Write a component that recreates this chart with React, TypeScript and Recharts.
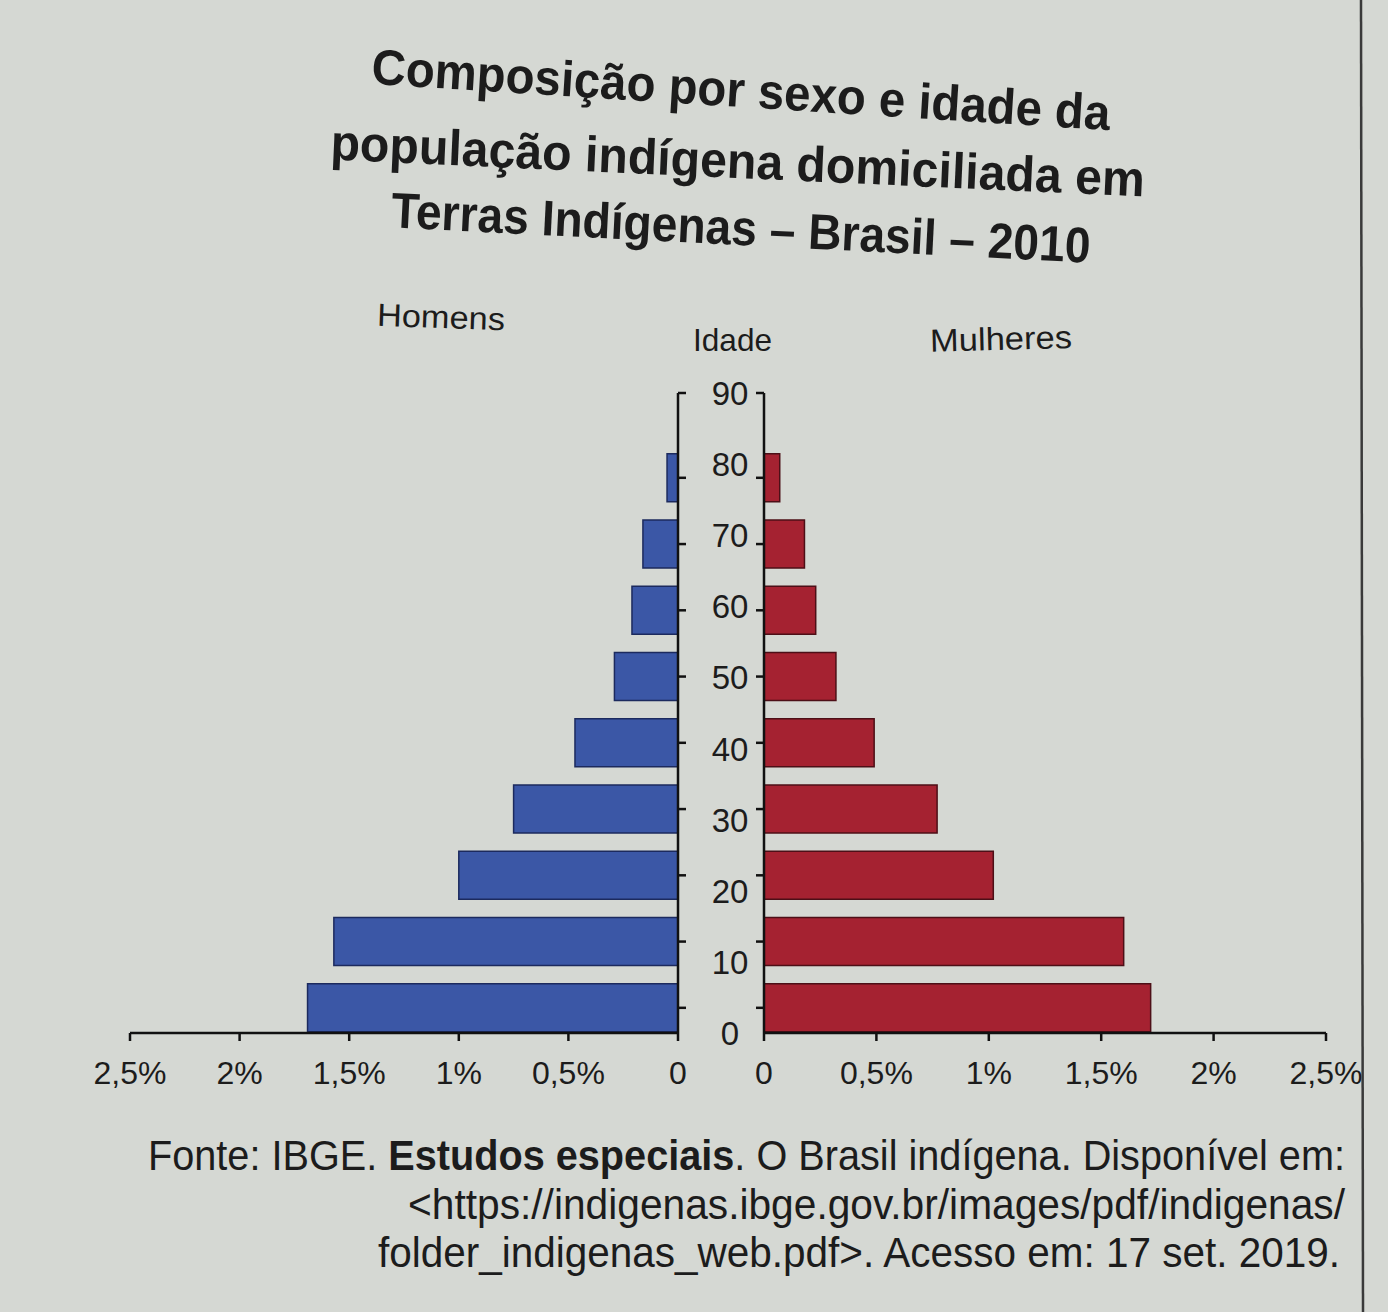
import { BarChart, Bar, XAxis, YAxis } from 'recharts';

const faixas = ['0 a 9', '10 a 19', '20 a 29', '30 a 39', '40 a 49', '50 a 59', '60 a 69', '70 a 79', '80 ou mais'];
const idadeCentro = [5, 15, 25, 35, 45, 55, 65, 75, 85];
const homens = [1.69, 1.57, 1.0, 0.75, 0.47, 0.29, 0.21, 0.16, 0.05];
const mulheres = [1.72, 1.6, 1.02, 0.77, 0.49, 0.32, 0.23, 0.18, 0.07];
const idadeRotulos = [0, 10, 20, 30, 40, 50, 60, 70, 80, 90];
const pctTicks = [0, 0.5, 1, 1.5, 2, 2.5];

const titulo = [
  'Composição por sexo e idade da',
  'população indígena domiciliada em',
  'Terras Indígenas – Brasil – 2010',
];

const W = 1388;
const H = 1312;
const FONT = '"Liberation Sans", Arial, Helvetica, sans-serif';
const INK = '#1c1c1c';
const PLOT_TOP = 393;
const PLOT_BOTTOM = 1033;
const X_AXIS_H = 70;
// in the print the bars (and their tick marks) don't sit exactly on the age labels,
// so the bar axis gets its own domain over the same height
const BAR_DOMAIN: [number, number] = [1.2, 97.8];
const barTicks = [...idadeCentro, BAR_DOMAIN[1]];

const data = faixas.map((f, i) => ({
  faixa: f,
  idade: idadeCentro[i],
  homens: homens[i],
  mulheres: mulheres[i],
}));

const fmtPct = (v: number) => (v === 0 ? '0' : `${String(v).replace('.', ',')}%`);

const NoLabel = () => <g />;

const IdadeTick = (props: any) => {
  const { x, y, payload } = props;
  return (
    <text x={x + 51} y={y} dy={12} textAnchor="middle" fontSize={33} fill={INK} fontFamily={FONT}>
      {payload.value}
    </text>
  );
};

const axisLine = { stroke: '#111', strokeWidth: 2.5 };
const tickLine = { stroke: '#111', strokeWidth: 2.5 };
const xTick = { fontSize: 32, fill: INK, fontFamily: FONT };

// zero lines of both halves
const MEN_ZERO = 678;
const WOMEN_ZERO = 764;

export default function App() {
  const layer = { position: 'absolute' as const, left: 0, top: 0 };
  return (
    <div style={{ position: 'absolute', left: 0, top: 0, width: W, height: H, background: '#d5d8d3', overflow: 'hidden' }}>
      <div style={layer}>
        <BarChart
          width={W}
          height={H}
          data={data}
          layout="vertical"
          margin={{ top: PLOT_TOP, right: W - MEN_ZERO - 1 - 85, bottom: H - PLOT_BOTTOM - X_AXIS_H, left: 130 }}
        >
          <XAxis
            type="number"
            domain={[0, 2.5]}
            ticks={pctTicks}
            reversed
            interval={0}
            allowDataOverflow
            height={X_AXIS_H}
            tickFormatter={fmtPct}
            tickSize={8}
            tickMargin={20}
            axisLine={axisLine}
            tickLine={tickLine}
            tick={xTick}
          />
          <YAxis
            yAxisId="faixa"
            type="number"
            dataKey="idade"
            orientation="right"
            width={1}
            reversed
            domain={BAR_DOMAIN}
            ticks={barTicks}
            interval={0}
            allowDataOverflow
            tickSize={8}
            axisLine={axisLine}
            tickLine={tickLine}
            tick={NoLabel}
          />
          <YAxis
            yAxisId="idade"
            type="number"
            dataKey="idade"
            orientation="right"
            width={85}
            reversed
            domain={[0, 90]}
            ticks={idadeRotulos}
            interval={0}
            allowDataOverflow
            tickSize={0}
            tickMargin={0}
            axisLine={false}
            tickLine={false}
            tick={IdadeTick}
          />
          <Bar yAxisId="faixa" dataKey="homens" barSize={48} fill="#3b57a6" stroke="#1c2a5e" strokeWidth={1.5} isAnimationActive={false} />
        </BarChart>
      </div>
      <div style={layer}>
        <BarChart
          width={W}
          height={H}
          data={data}
          layout="vertical"
          margin={{ top: PLOT_TOP, right: W - 1326, bottom: H - PLOT_BOTTOM - X_AXIS_H, left: WOMEN_ZERO - 1 }}
        >
          <XAxis
            type="number"
            domain={[0, 2.5]}
            ticks={pctTicks}
            interval={0}
            allowDataOverflow
            height={X_AXIS_H}
            tickFormatter={fmtPct}
            tickSize={8}
            tickMargin={20}
            axisLine={axisLine}
            tickLine={tickLine}
            tick={xTick}
          />
          <YAxis
            yAxisId="faixa"
            type="number"
            dataKey="idade"
            orientation="left"
            width={1}
            reversed
            domain={BAR_DOMAIN}
            ticks={barTicks}
            interval={0}
            allowDataOverflow
            tickSize={8}
            axisLine={axisLine}
            tickLine={tickLine}
            tick={NoLabel}
          />
          <Bar yAxisId="faixa" dataKey="mulheres" barSize={48} fill="#a52231" stroke="#4d0f17" strokeWidth={1.5} isAnimationActive={false} />
        </BarChart>
      </div>
      <svg width={W} height={H} style={{ ...layer, pointerEvents: 'none' }} fontFamily={FONT}>
        {/* title, printed slightly tilted on the photographed page */}
        <text x={740} y={107} textAnchor="middle" fontSize={50} fontWeight="bold" fill={INK}
          textLength={740} lengthAdjust="spacingAndGlyphs" transform="rotate(3.6 740 107)">{titulo[0]}</text>
        <text x={737} y={178} textAnchor="middle" fontSize={50} fontWeight="bold" fill={INK}
          textLength={815} lengthAdjust="spacingAndGlyphs" transform="rotate(2.6 737 178)">{titulo[1]}</text>
        <text x={740} y={245} textAnchor="middle" fontSize={50} fontWeight="bold" fill={INK}
          textLength={700} lengthAdjust="spacingAndGlyphs" transform="rotate(2.9 740 245)">{titulo[2]}</text>

        <text x={377} y={328} fontSize={32} fill={INK} textLength={128} lengthAdjust="spacingAndGlyphs"
          transform="rotate(2 440 318)">Homens</text>
        <text x={693} y={351} fontSize={32} fill={INK} textLength={79} lengthAdjust="spacingAndGlyphs">Idade</text>
        <text x={930} y={350} fontSize={32} fill={INK} textLength={142} lengthAdjust="spacingAndGlyphs"
          transform="rotate(-1.5 1000 340)">Mulheres</text>

        <text x={148} y={1170} fontSize={42} fill={INK} textLength={1197} lengthAdjust="spacingAndGlyphs">
          Fonte: IBGE. <tspan fontWeight="bold">Estudos especiais</tspan>. O Brasil indígena. Disponível em:
        </text>
        <text x={408} y={1219} fontSize={42} fill={INK} textLength={937} lengthAdjust="spacingAndGlyphs">&lt;https://indigenas.ibge.gov.br/images/pdf/indigenas/</text>
        <text x={378} y={1267} fontSize={42} fill={INK} textLength={962} lengthAdjust="spacingAndGlyphs">folder_indigenas_web.pdf&gt;. Acesso em: 17 set. 2019.</text>

        <line x1={1361} y1={0} x2={1363} y2={H} stroke="#3a3a3a" strokeWidth={2.5} />
      </svg>
    </div>
  );
}
